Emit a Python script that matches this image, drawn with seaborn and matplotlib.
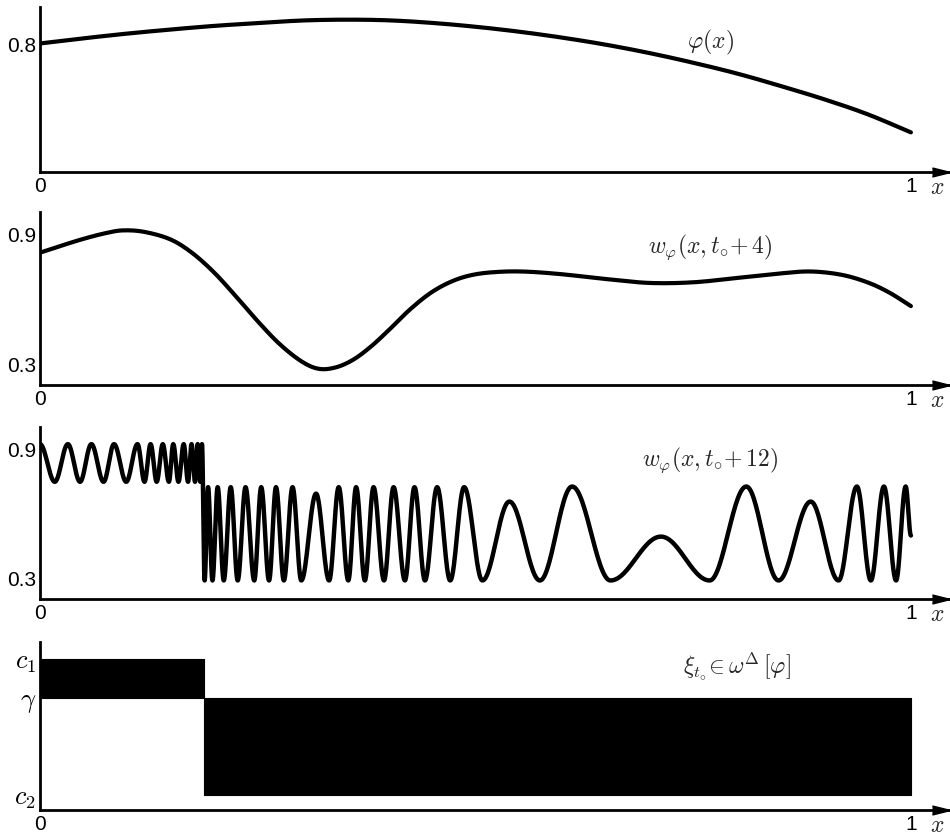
import numpy as np
import seaborn as sns
import matplotlib.pyplot as plt

sns.set_style("white")
plt.rcParams['font.family'] = ['Liberation Sans', 'DejaVu Sans']
plt.rcParams['mathtext.fontset'] = 'cm'

# panel 1: phi(x)
phi_x = [0, 0.05, 0.10, 0.15, 0.20, 0.25, 0.30, 0.35, 0.40, 0.45, 0.50,
         0.55, 0.60, 0.65, 0.70, 0.75, 0.80, 0.85, 0.90, 0.95, 1.0]
phi_y = [0.800, 0.824, 0.846, 0.865, 0.882, 0.895, 0.907, 0.911, 0.908, 0.896, 0.878,
         0.855, 0.827, 0.794, 0.755, 0.710, 0.660, 0.602, 0.540, 0.470, 0.385]

# panel 2: w_phi(x, t0+4)
w4_x = [0, 0.025, 0.05, 0.075, 0.095, 0.12, 0.15, 0.175, 0.20, 0.225, 0.25, 0.275,
        0.30, 0.32, 0.34, 0.36, 0.38, 0.40, 0.425, 0.45, 0.475, 0.50, 0.53, 0.56,
        0.60, 0.65, 0.70, 0.75, 0.80, 0.85, 0.885, 0.92, 0.95, 0.975, 1.0]
w4_y = [0.812, 0.845, 0.876, 0.902, 0.915, 0.908, 0.873, 0.810, 0.720, 0.610, 0.495, 0.390,
        0.310, 0.275, 0.282, 0.318, 0.378, 0.452, 0.550, 0.630, 0.683, 0.712, 0.724, 0.724,
        0.712, 0.690, 0.672, 0.675, 0.695, 0.716, 0.725, 0.710, 0.675, 0.628, 0.565]

# panel 3: w_phi(x, t0+12), read as successive peaks / troughs
w12_ext_x = [0, 0.017, 0.032, 0.046, 0.059, 0.073, 0.085, 0.099, 0.112, 0.120,
             0.127, 0.134, 0.141, 0.148, 0.153, 0.159, 0.165, 0.170, 0.174, 0.178,
             0.181, 0.184, 0.186,
             0.189, 0.193, 0.198, 0.204, 0.211, 0.219, 0.227, 0.236, 0.246, 0.254,
             0.263, 0.271, 0.280, 0.290, 0.300, 0.317, 0.332, 0.343, 0.354, 0.363,
             0.373, 0.383, 0.395, 0.406, 0.419, 0.430, 0.442, 0.456, 0.471, 0.487,
             0.508, 0.539, 0.574, 0.611, 0.655, 0.713, 0.769, 0.811, 0.848, 0.885,
             0.917, 0.938, 0.954, 0.969, 0.983, 0.994, 1.0]
w12_ext_y = [0.92, 0.745, 0.92, 0.745, 0.92, 0.745, 0.92, 0.745, 0.92, 0.745,
             0.92, 0.745, 0.92, 0.745, 0.92, 0.745, 0.92, 0.745, 0.92, 0.745,
             0.92, 0.745, 0.92,
             0.286, 0.72, 0.286, 0.72, 0.286, 0.72, 0.286, 0.72, 0.286, 0.72,
             0.286, 0.72, 0.286, 0.72, 0.286, 0.69, 0.286, 0.72, 0.286, 0.72,
             0.286, 0.72, 0.286, 0.72, 0.286, 0.72, 0.286, 0.72, 0.286, 0.72,
             0.286, 0.653, 0.286, 0.723, 0.286, 0.49, 0.286, 0.723, 0.286, 0.653,
             0.286, 0.723, 0.286, 0.723, 0.286, 0.723, 0.495]

# panel 4: xi_t0 band
c1, gamma, c2 = 0.92, 0.735, 0.27
xi_x = [0, 0.188, 0.188, 1.0]
xi_low = [gamma, gamma, c2, c2]
xi_high = [c1, c1, gamma, gamma]


def through_extrema(xs, ys, n=30):
    # smooth half-wave between each pair of read extrema
    px, py = [], []
    for i in range(len(xs) - 1):
        t = np.linspace(0, 1, n, endpoint=False)
        px.append(xs[i] + (xs[i + 1] - xs[i]) * t)
        py.append(ys[i] + (ys[i + 1] - ys[i]) * (1 - np.cos(np.pi * t)) / 2)
    px.append([xs[-1]])
    py.append([ys[-1]])
    return np.concatenate(px), np.concatenate(py)


def smooth_path(xs, ys, n=12):
    # catmull-rom drawing path through the read points
    p = np.column_stack([xs, ys])
    p = np.vstack([p[0], p, p[-1]])
    out = []
    t = np.linspace(0, 1, n, endpoint=False)[:, None]
    for i in range(1, len(p) - 2):
        p0, p1, p2, p3 = p[i - 1], p[i], p[i + 1], p[i + 2]
        out.append(0.5 * (2 * p1 + (-p0 + p2) * t + (2 * p0 - 5 * p1 + 4 * p2 - p3) * t ** 2
                          + (-p0 + 3 * p1 - 3 * p2 + p3) * t ** 3))
    out.append(p[-2][None, :])
    out = np.vstack(out)
    return out[:, 0], out[:, 1]


def style_axis(ax, ylim, yticks, ylabels, ysize=15):
    ax.set_xlim(0, 1.045)
    ax.set_ylim(*ylim)
    for s in ['top', 'right']:
        ax.spines[s].set_visible(False)
    for s in ['left', 'bottom']:
        ax.spines[s].set_linewidth(2)
        ax.spines[s].set_color('black')
    ax.plot(0.99, ylim[0], marker=[(-2, -1), (2, 0), (-2, 1)], ms=13, color='black',
            transform=ax.get_yaxis_transform(), clip_on=False)
    ax.set_xticks([0, 1])
    ax.set_xticklabels(['0', '1'])
    ax.set_yticks(yticks)
    ax.set_yticklabels(ylabels)
    ax.tick_params(direction='in', length=8, width=1.5, colors='black',
                   labelsize=15, pad=3)
    ax.tick_params(axis='y', labelsize=ysize)
    ax.annotate('$x$', xy=(0.986, 0), xycoords='axes fraction', xytext=(0, -3),
                textcoords='offset points', ha='center', va='top', fontsize=17)
    ax.set_xlabel('')
    ax.set_ylabel('')


fig = plt.figure(figsize=(9.5, 8.37), dpi=100)
ax1 = fig.add_axes([0.0421, 0.7933, 0.958, 0.1971])
ax2 = fig.add_axes([0.0421, 0.5388, 0.958, 0.2067])
ax3 = fig.add_axes([0.0421, 0.2832, 0.958, 0.2055])
ax4 = fig.add_axes([0.0421, 0.0315, 0.958, 0.2003])

px1, py1 = smooth_path(phi_x, phi_y)
sns.lineplot(x=px1, y=py1, ax=ax1, color='black', linewidth=3, estimator=None, sort=False)
style_axis(ax1, (0.2, 0.97), [0.8], ['0.8'])
ax1.text(0.77, 0.81, r'$\varphi(x)$', fontsize=17, ha='center', va='center')

px2, py2 = smooth_path(w4_x, w4_y)
sns.lineplot(x=px2, y=py2, ax=ax2, color='black', linewidth=3, estimator=None, sort=False)
style_axis(ax2, (0.2, 1.0), [0.3, 0.9], ['0.3', '0.9'])
ax2.text(0.77, 0.84, r'$w_{\varphi}(x,t_{\circ}\!+4)$', fontsize=17,
         ha='center', va='center')

wx, wy = through_extrema(w12_ext_x, w12_ext_y)
sns.lineplot(x=wx, y=wy, ax=ax3, color='black', linewidth=3.2, estimator=None, sort=False)
style_axis(ax3, (0.2, 1.0), [0.3, 0.9], ['0.3', '0.9'])
ax3.text(0.77, 0.85, r'$w_{\varphi}(x,t_{\circ}\!+12)$', fontsize=17,
         ha='center', va='center')

ax4.fill_between(xi_x, xi_low, xi_high, color='black', linewidth=0.8, edgecolor='black')
style_axis(ax4, (0.2, 1.0), [c2, gamma, c1], ['$c_2$', r'$\gamma$', '$c_1$'], ysize=19)
ax4.text(0.80, 0.888, r'$\xi_{t_{\circ}}\!\in\omega^{\Delta}\,[\varphi]$', fontsize=17,
         ha='center', va='center')

fig.savefig('out.png', dpi=100, facecolor='white')
